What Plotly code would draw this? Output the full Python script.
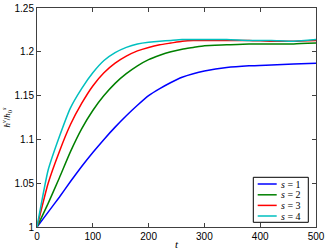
import plotly.graph_objects as go

t = [0, 20, 40, 60, 80, 100, 120, 140, 160, 180, 200, 220, 240, 260, 280, 300, 340, 380, 420, 460, 500]
s1 = [1.000, 1.017, 1.034, 1.052, 1.069, 1.085, 1.100, 1.114, 1.127, 1.139, 1.150, 1.158, 1.165, 1.171, 1.175, 1.178, 1.182, 1.184, 1.185, 1.186, 1.187]
s2 = [1.000, 1.027, 1.056, 1.086, 1.112, 1.133, 1.150, 1.164, 1.175, 1.184, 1.191, 1.196, 1.200, 1.203, 1.205, 1.207, 1.208, 1.209, 1.209, 1.209, 1.210]
s3 = [1.000, 1.050, 1.086, 1.117, 1.141, 1.161, 1.176, 1.187, 1.195, 1.201, 1.205, 1.208, 1.210, 1.212, 1.213, 1.213, 1.213, 1.213, 1.212, 1.212, 1.213]
s4 = [1.000, 1.065, 1.103, 1.136, 1.158, 1.176, 1.190, 1.199, 1.205, 1.209, 1.211, 1.212, 1.213, 1.214, 1.214, 1.214, 1.214, 1.213, 1.213, 1.212, 1.214]

names = ["<i>s</i> = 1", "<i>s</i> = 2", "<i>s</i> = 3", "<i>s</i> = 4"]
series = [s1, s2, s3, s4]
colors = ["#0000FF", "#008000", "#FF0000", "#00BFBF"]

x_ticks = [0, 100, 200, 300, 400, 500]
y_ticks = [1, 1.05, 1.1, 1.15, 1.2, 1.25]
y_ticktext = ["1", "1.05", "1.1", "1.15", "1.2", "1.25"]

W, H = 327, 250
L, R, T, B = 37, 11, 8, 23
pw, ph = W - L - R, H - T - B

def px(xp):
    return (xp - L) / pw

def py(yp):
    return (H - B - yp) / ph

fig = go.Figure()
for n, y, c in zip(names, series, colors):
    fig.add_trace(go.Scatter(x=t, y=y, mode="lines", name=n, showlegend=False,
                             line=dict(color=c, width=1.5, shape="spline", smoothing=0.5)))

axis_common = dict(showline=True, mirror="ticks", linecolor="#404040", linewidth=1,
                   ticks="inside", ticklen=4, tickcolor="#404040", showgrid=False,
                   zeroline=False, automargin=False,
                   tickfont=dict(family="Liberation Sans", size=10, color="#000"))

fig.update_xaxes(range=[0, 500], tickvals=x_ticks,
                 title=dict(text="<i>t</i>", font=dict(family="Liberation Serif", size=11, color="#000"), standoff=1),
                 **axis_common)
fig.update_yaxes(range=[1, 1.25], tickvals=y_ticks, ticktext=y_ticktext,
                 title=dict(text="<i>h</i><sup><i>v</i></sup>/<i>h</i><sub>0</sub><sup><i>s</i></sup>",
                            font=dict(family="Liberation Serif", size=9, color="#000"), standoff=3),
                 **axis_common)

# manual compact legend (MATLAB style)
shapes = [dict(type="rect", xref="paper", yref="paper",
               x0=px(253.3), x1=px(308.3), y0=py(222.3), y1=py(177.3),
               line=dict(color="#000", width=1), fillcolor="white", layer="above")]
annotations = []
row_y = [184, 194.8, 205.4, 216]
for n, c, ry in zip(names, colors, row_y):
    shapes.append(dict(type="line", xref="paper", yref="paper",
                       x0=px(257.7), x1=px(276.7), y0=py(ry), y1=py(ry),
                       line=dict(color=c, width=1.5), layer="above"))
    annotations.append(dict(xref="paper", yref="paper", x=px(279), y=py(ry),
                            xanchor="left", yanchor="middle", showarrow=False,
                            text=n, font=dict(family="Liberation Serif", size=10, color="#000")))

fig.update_layout(
    width=W, height=H,
    margin=dict(l=L, r=R, t=T, b=B),
    paper_bgcolor="white", plot_bgcolor="white",
    showlegend=False,
    shapes=shapes, annotations=annotations,
)

fig.write_html("out.html", config={"displayModeBar": False, "staticPlot": True},
               post_script="document.body.style.margin='0';document.body.style.overflow='hidden';")
